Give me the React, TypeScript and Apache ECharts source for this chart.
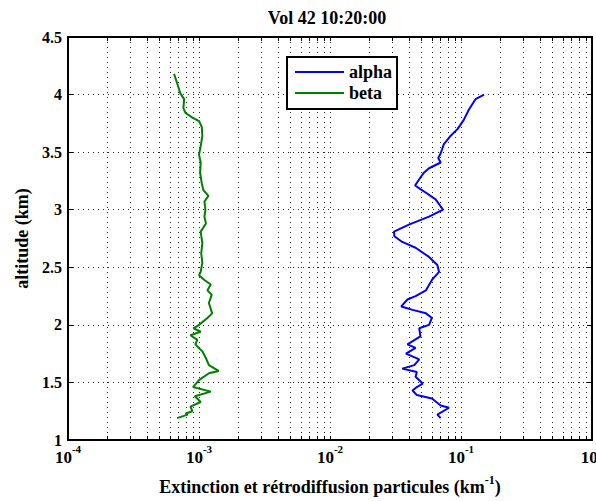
import React, { useEffect, useRef } from "react";
import * as echarts from "echarts";

const TITLE = "Vol 42 10:20:00";
const SERIES_NAMES = ["alpha", "beta"];

// alpha (extinction, km^-1) vs altitude (km)
const alphaAlt = [1.19, 1.22, 1.28, 1.30, 1.36, 1.39, 1.43, 1.46, 1.49, 1.55, 1.59, 1.62, 1.65, 1.70, 1.75, 1.80, 1.83, 1.90, 1.97, 2.00, 2.06, 2.10, 2.13, 2.16, 2.22, 2.25, 2.30, 2.39, 2.46, 2.52, 2.59, 2.67, 2.72, 2.77, 2.81, 2.87, 2.94, 3.00, 3.09, 3.16, 3.21, 3.28, 3.32, 3.36, 3.41, 3.45, 3.49, 3.57, 3.64, 3.70, 3.78, 3.87, 3.96, 4.00];
const alphaExt = [0.070, 0.066, 0.081, 0.070, 0.060, 0.046, 0.0427, 0.046, 0.051, 0.045, 0.046, 0.0356, 0.044, 0.048, 0.038, 0.045, 0.039, 0.049, 0.048, 0.057, 0.060, 0.054, 0.0427, 0.035, 0.039, 0.045, 0.054, 0.060, 0.068, 0.066, 0.057, 0.045, 0.0356, 0.031, 0.0308, 0.040, 0.057, 0.073, 0.064, 0.052, 0.0446, 0.049, 0.052, 0.057, 0.070, 0.067, 0.070, 0.074, 0.083, 0.094, 0.105, 0.115, 0.129, 0.150];

// beta (backscatter) vs altitude (km)
const betaAlt = [1.19, 1.22, 1.23, 1.25, 1.29, 1.33, 1.38, 1.42, 1.46, 1.52, 1.58, 1.60, 1.65, 1.71, 1.77, 1.83, 1.87, 1.91, 1.94, 1.97, 2.00, 2.06, 2.10, 2.19, 2.26, 2.30, 2.35, 2.39, 2.43, 2.46, 2.54, 2.62, 2.71, 2.81, 2.88, 2.94, 3.00, 3.07, 3.12, 3.17, 3.23, 3.32, 3.41, 3.48, 3.55, 3.64, 3.72, 3.77, 3.80, 3.84, 3.88, 3.96, 4.01, 4.10, 4.18];
const betaExt = [6.8e-4, 8.2e-4, 7.9e-4, 8.9e-4, 8.6e-4, 1.03e-3, 0.93e-3, 1.23e-3, 0.90e-3, 1.0e-3, 1.19e-3, 1.41e-3, 1.19e-3, 1.13e-3, 1.06e-3, 0.94e-3, 0.97e-3, 0.86e-3, 1.03e-3, 0.91e-3, 1.0e-3, 1.16e-3, 1.26e-3, 1.19e-3, 1.25e-3, 1.16e-3, 1.23e-3, 1.10e-3, 1.0e-3, 1.03e-3, 1.06e-3, 1.04e-3, 1.06e-3, 1.03e-3, 1.13e-3, 1.10e-3, 1.12e-3, 1.10e-3, 1.18e-3, 1.08e-3, 1.05e-3, 1.02e-3, 1.03e-3, 1.0e-3, 1.03e-3, 1.06e-3, 1.05e-3, 1.0e-3, 0.89e-3, 0.79e-3, 0.76e-3, 0.77e-3, 0.72e-3, 0.68e-3, 0.645e-3];

const xMajorTicks = [1e-4, 1e-3, 1e-2, 1e-1, 1];
const xDecadeExponents = [-4, -3, -2, -1];
const xMantissas = [1, 2, 3, 4, 5, 6, 7, 8, 9];
const yMin = 1;
const yMax = 4.5;
const yStep = 0.5;

const FONT = "Liberation Serif";

export default function App() {
  const ref = useRef<HTMLDivElement>(null);
  useEffect(() => {
    if (!ref.current) return;
    const chart = echarts.init(ref.current, null, { renderer: "svg" });

    const xAllTicks: number[] = [];
    xDecadeExponents.forEach((e) => {
      xMantissas.forEach((m) => xAllTicks.push(parseFloat((m * Math.pow(10, e)).toPrecision(6))));
    });
    xAllTicks.push(1);

    const dotted = { color: "#222", width: 1, type: [1, 4] as number[] };

    const xAxisBase = {
      type: "log" as const,
      logBase: 10,
      min: 1e-4,
      max: 1,
      axisLine: { show: true, lineStyle: { color: "#000", width: 2 } },
    };

    const option: any = {
      animation: false,
      backgroundColor: "#fff",
      graphic: [
        {
          type: "text",
          x: 327,
          y: 9,
          style: {
            text: TITLE,
            textAlign: "center",
            textVerticalAlign: "top",
            fontFamily: FONT,
            fontWeight: "bold",
            fontSize: 18,
            fill: "#000",
          },
        },
      ],
      grid: { left: 68, right: 4, top: 37, bottom: 61, containLabel: false, outerBoundsMode: "none" },
      legend: {
        data: SERIES_NAMES,
        orient: "vertical",
        left: 287,
        top: 57,
        padding: [6, 5, 7, 8],
        itemGap: 3,
        itemWidth: 49,
        itemHeight: 2,
        icon: "rect",
        borderColor: "#000",
        borderWidth: 2,
        backgroundColor: "#fff",
        borderRadius: 0,
        textStyle: {
          fontFamily: FONT,
          fontWeight: "bold",
          fontSize: 18,
          lineHeight: 18,
          color: "#000",
        },
      },
      xAxis: [
        {
          ...xAxisBase,
          position: "bottom",
          name: "{n|Extinction et rétrodiffusion particules (km}{s|-1}{n|)}",
          nameLocation: "middle",
          nameGap: 36,
          nameTextStyle: {
            fontFamily: FONT,
            fontWeight: "bold",
            fontSize: 18,
            color: "#000",
            rich: {
              n: { fontFamily: FONT, fontWeight: "bold", fontSize: 18, color: "#000", verticalAlign: "bottom", lineHeight: 20 },
              s: { fontFamily: FONT, fontWeight: "bold", fontSize: 12, color: "#000", verticalAlign: "bottom", lineHeight: 12, padding: [0, 0, 10, 0] },
            },
          },
          axisTick: { show: true, inside: true, length: 4, customValues: xAllTicks, lineStyle: { color: "#000", width: 1 } },
          axisLabel: {
            show: true,
            customValues: xMajorTicks,
            margin: 9,
            color: "#000",
            formatter: (v: number) => `{b|10}{s|${Math.round(Math.log10(v))}}`,
            rich: {
              b: { fontFamily: FONT, fontWeight: "bold", fontSize: 17, color: "#000", verticalAlign: "bottom", lineHeight: 17 },
              s: { fontFamily: FONT, fontWeight: "bold", fontSize: 11, color: "#000", verticalAlign: "bottom", lineHeight: 11, padding: [0, 0, 12, 0] },
            },
          },
          splitLine: { show: true, lineStyle: dotted },
        },
        {
          ...xAxisBase,
          position: "top",
          axisTick: { show: true, inside: true, length: 4, customValues: xAllTicks, lineStyle: { color: "#000", width: 1 } },
          axisLabel: { show: false },
          splitLine: { show: false },
        },
      ],
      yAxis: [
        {
          type: "value",
          min: yMin,
          max: yMax,
          interval: yStep,
          position: "left",
          name: "altitude (km)",
          nameLocation: "middle",
          nameGap: 35,
          nameTextStyle: { fontFamily: FONT, fontWeight: "bold", fontSize: 18, color: "#000" },
          axisLine: { show: true, lineStyle: { color: "#000", width: 2 } },
          axisTick: { show: true, inside: true, length: 5, lineStyle: { color: "#000", width: 1 } },
          axisLabel: {
            margin: 6,
            color: "#000",
            fontFamily: FONT,
            fontWeight: "bold",
            fontSize: 16,
            formatter: (v: number) => String(v),
          },
          splitLine: { show: true, lineStyle: dotted },
        },
        {
          type: "value",
          min: yMin,
          max: yMax,
          interval: yStep,
          position: "right",
          axisLine: { show: true, lineStyle: { color: "#000", width: 2 } },
          axisTick: { show: true, inside: true, length: 5, lineStyle: { color: "#000", width: 1 } },
          axisLabel: { show: false },
          splitLine: { show: false },
        },
      ],
      series: [
        {
          name: SERIES_NAMES[0],
          type: "line",
          xAxisIndex: 0,
          yAxisIndex: 0,
          data: alphaExt.map((x, i) => [x, alphaAlt[i]]),
          showSymbol: false,
          symbol: "none",
          color: "#0000ff",
          lineStyle: { color: "#0000ff", width: 2 },
          z: 5,
        },
        {
          name: SERIES_NAMES[1],
          type: "line",
          xAxisIndex: 0,
          yAxisIndex: 0,
          data: betaExt.map((x, i) => [x, betaAlt[i]]),
          showSymbol: false,
          symbol: "none",
          color: "#008000",
          lineStyle: { color: "#008000", width: 2 },
          z: 5,
        },
      ],
    };

    chart.setOption(option);
    return () => chart.dispose();
  }, []);

  return (
    <div
      ref={ref}
      style={{ position: "absolute", left: 0, top: 0, width: 596, height: 501 }}
    />
  );
}
